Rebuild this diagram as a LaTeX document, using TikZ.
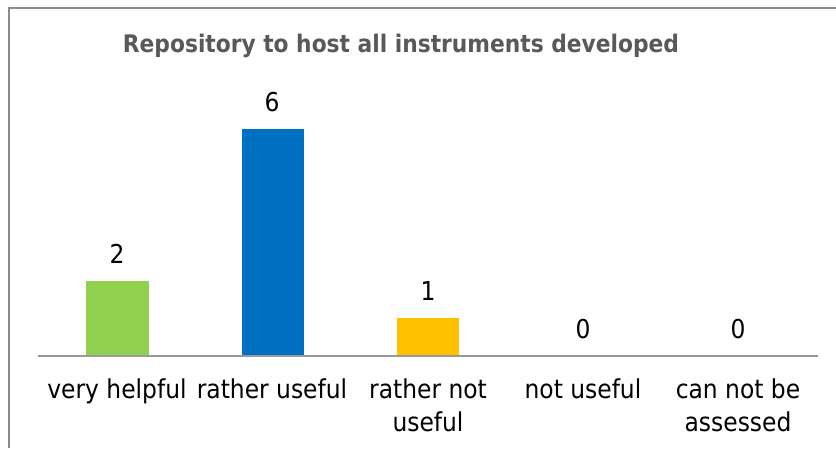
\documentclass[tikz,border=0pt]{standalone}
\usepackage{fontspec}
\setmainfont{DejaVu Sans Condensed}
\definecolor{bargreen}{HTML}{92D050}
\definecolor{barblue}{HTML}{0070C0}
\definecolor{barorange}{HTML}{FFC000}
\definecolor{framegray}{HTML}{8C8C8C}
\definecolor{titlegray}{HTML}{595959}
\tikzset{
  val/.style={font=\fontsize{26}{30}\selectfont, anchor=base},
  cat/.style={font=\fontsize{26}{33}\selectfont, align=center, anchor=north, inner sep=0pt},
}
\begin{document}
\begin{tikzpicture}[x=1pt,y=-1pt]
\useasboundingbox (0,0) rectangle (836,448);
\fill[white] (0,0) rectangle (836,448);
% frame
\draw[framegray, line width=2pt](836,7.5)--(8.5,7.5)--(8.5,448);
\node[font=\bfseries\fontsize{24.2}{28}\selectfont, text=titlegray](title) at (401,46){Repository to host all instruments developed};
% bars
\fill[bargreen](86,281)rectangle(149,356);
\fill[barblue](242,129)rectangle(304,356);
\fill[barorange](397,318)rectangle(459,356);
\draw[gray!80, line width=1.2pt](38,356)--(818,356);
% values
\node[val](v1) at (117,263){2};
\node[val](v2) at (272,111){6};
\node[val](v3) at (428,300){1};
\node[val](v4) at (583,338){0};
\node[val](v5) at (738,338){0};
% categories
\node[cat](c1) at (117,379){very helpful};
\node[cat](c2) at (272,379){rather useful};
\node[cat](c3) at (428,379){rather not\\useful};
\node[cat](c4) at (583,379){not useful};
\node[cat](c5) at (738,379){can not be\\assessed};
\end{tikzpicture}
\end{document}
